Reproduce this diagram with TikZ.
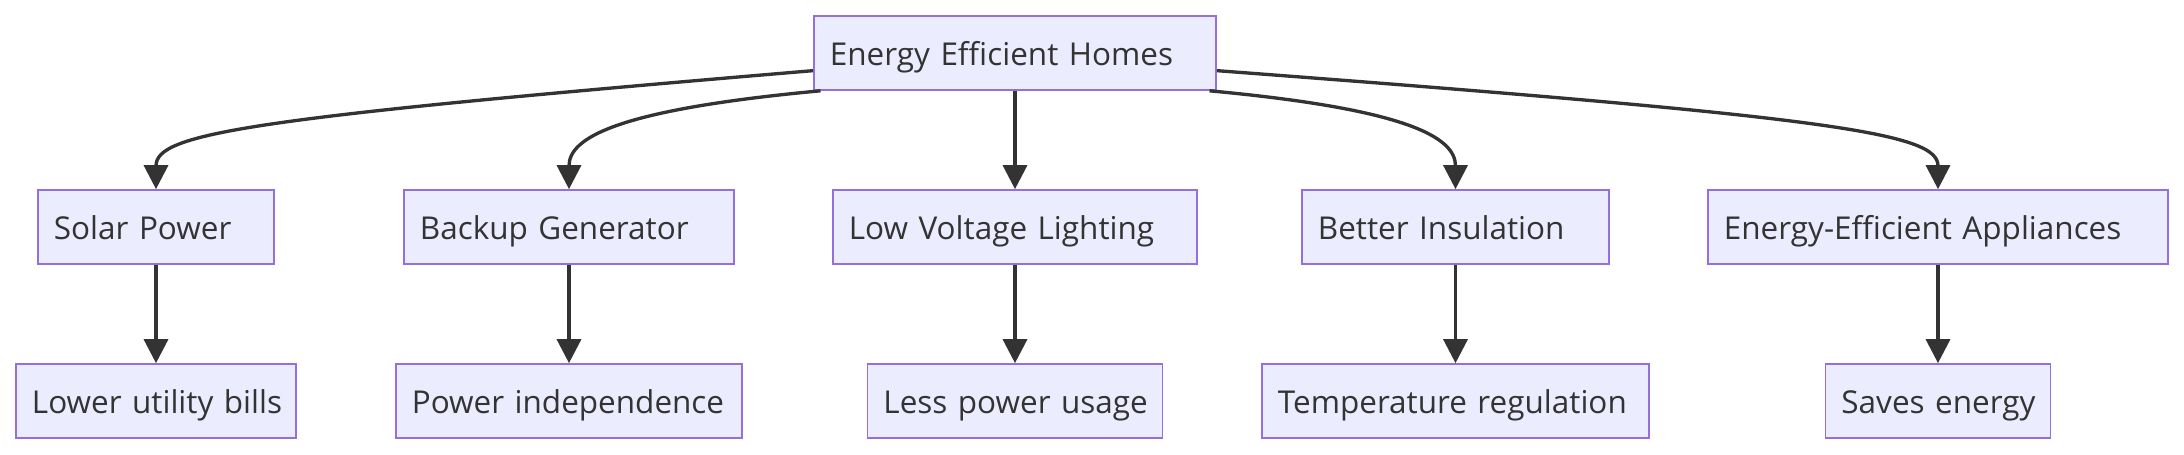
\documentclass[tikz,border=0pt]{standalone}
\usepackage{fontspec}
\setmainfont{Open Sans}
\usepackage{xcolor}
\definecolor{BoxFill}  {HTML}{ECECFF}
\definecolor{BoxBorder}{HTML}{9370DB}
\definecolor{LineGray} {HTML}{333333}
\definecolor{TextGray} {HTML}{333333}
\usetikzlibrary{
  arrows.meta,
  positioning
}

\begin{document}
\begin{tikzpicture}[
  x=0.01cm, y=0.01cm,
  font=\fontsize{8.95pt}{11pt}\selectfont,
  box/.style={
    draw=BoxBorder, fill=BoxFill,
    line width=0.45pt,
    text width=#1,
    inner xsep=0.16cm, inner ysep=0pt,
    minimum height=0.74cm,
    text height=0.95em, text depth=0.25em,
    align=left, text=TextGray,
    execute at begin node={\hbox\bgroup},
    execute at end node={\egroup}
  },
  arrow/.style={
    -{Triangle[length=0.24cm, width=0.24cm]},
    line width=0.95pt, color=LineGray}
]

\useasboundingbox (0,0) rectangle (2184,454);

% top level
\node[box=3.70cm] (homes) at (1015,401)
  {Energy Efficient Homes};

% second row
\node[box=2.04cm] (solar)      at (156,227)    {Solar Power};
\node[box=2.98cm] (backup)     at (569,227)    {Backup Generator};
\node[box=3.32cm] (lighting)   at (1015,227)   {Low Voltage Lighting};
\node[box=2.75cm] (insul)      at (1455.5,227) {Better Insulation};
\node[box=4.28cm] (appliances) at (1938,227)   {Energy-Efficient Appliances};

% third row
\node[box=2.48cm] (bills) at (156,53)    {Lower utility bills};
\node[box=3.14cm] (indep) at (569,53)    {Power independence};
\node[box=2.63cm] (usage) at (1015,53)   {Less power usage};
\node[box=3.55cm] (temp)  at (1455.5,53) {Temperature regulation};
\node[box=1.93cm] (saves) at (1938,53)   {Saves energy};

% edges from the top node
\draw[arrow] (homes.185) to[out=184.8, in=90,
  out distance=5.66cm, in distance=0.56cm] (solar.north);
\draw[arrow] (homes.191) to[out=185.3, in=90,
  out distance=2.06cm, in distance=0.51cm] (backup.north);
\draw[arrow] (homes) -- (lighting);
\draw[arrow] (homes.-11) to[out=-5.3, in=90,
  out distance=2.02cm, in distance=0.51cm] (insul.north);
\draw[arrow] (homes.-5) to[out=-4.3, in=90,
  out distance=6.21cm, in distance=0.56cm] (appliances.north);

% edges to the third row
\draw[arrow] (solar) -- (bills);
\draw[arrow] (backup) -- (indep);
\draw[arrow] (lighting) -- (usage);
\draw[arrow] (insul) -- (temp);
\draw[arrow] (appliances) -- (saves);

\end{tikzpicture}
\end{document}
